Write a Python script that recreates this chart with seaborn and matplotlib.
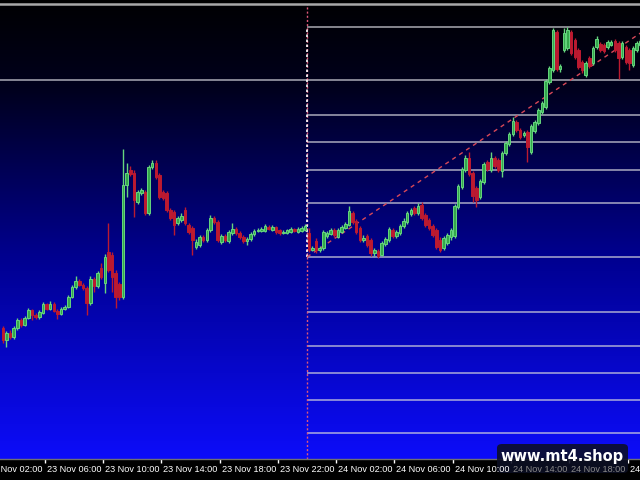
import numpy as np
import pandas as pd
import matplotlib
matplotlib.use('Agg')
import matplotlib.pyplot as plt
import matplotlib.dates as mdates
from matplotlib.colors import LinearSegmentedColormap
from matplotlib.patches import FancyBboxPatch
import seaborn as sns

# ====================
# DATA (M15 candles, prices)
# ====================
first_bar = '2023-11-23 03:00'

opens = [172, 160, 167, 163, 172, 180, 175, 182, 190, 185,
         183, 187, 196, 191, 196, 189, 186, 191, 193, 203,
         213, 219, 215, 212, 197, 221, 214, 232, 217, 248,
         245, 227, 216, 203, 315, 330, 327, 298, 307, 308,
         287, 333, 337, 325, 308, 307, 290, 288, 277, 280,
         290, 275, 272, 253, 255, 263, 260, 270, 282, 278,
         258, 264, 259, 267, 271, 267, 263, 259, 261, 266,
         269, 269, 269, 273, 270, 273, 270, 267, 267, 268,
         271, 268, 269, 270, 267, 250, 259, 250, 252, 264,
         266, 270, 263, 268, 272, 275, 287, 279, 272, 260,
         264, 260, 247, 249, 245, 256, 260, 270, 264, 267,
         274, 278, 286, 292, 287, 295, 285, 280, 274, 270,
         260, 252, 257, 263, 264, 293, 313, 330, 342, 327,
         312, 303, 318, 338, 330, 342, 340, 329, 347, 356,
         366, 378, 370, 365, 368, 348, 369, 377, 388, 393,
         418, 430, 468, 431, 450, 452, 468, 460, 450, 438,
         425, 442, 437, 453, 456, 455, 453, 455, 459, 457,
         443, 453, 450, 435, 450, 455]

highs = [174, 169, 170, 174, 182, 182, 184, 192, 191, 187,
         190, 198, 197, 199, 198, 191, 193, 195, 205, 215,
         224, 221, 217, 214, 224, 223, 229, 237, 246, 277,
         248, 230, 218, 351, 337, 334, 330, 310, 312, 310,
         335, 340, 340, 327, 310, 309, 292, 290, 284, 287,
         293, 277, 274, 261, 265, 265, 272, 285, 284, 280,
         266, 266, 270, 277, 273, 269, 265, 263, 268, 271,
         272, 273, 276, 275, 275, 274, 271, 270, 271, 273,
         272, 273, 274, 276, 272, 254, 262, 254, 270, 269,
         272, 272, 272, 275, 278, 294, 289, 281, 274, 265,
         266, 262, 252, 251, 259, 263, 273, 272, 270, 276,
         282, 289, 292, 294, 297, 298, 287, 282, 276, 272,
         263, 264, 267, 272, 296, 316, 333, 345, 348, 329,
         314, 321, 338, 340, 348, 344, 342, 349, 359, 368,
         383, 380, 372, 369, 370, 376, 380, 392, 399, 421,
         434, 472, 470, 436, 472, 473, 470, 462, 452, 440,
         439, 444, 454, 464, 458, 457, 460, 460, 461, 459,
         459, 455, 452, 454, 459, 461]

lows = [157, 153, 161, 161, 170, 173, 174, 181, 180, 181,
        181, 186, 190, 190, 188, 181, 185, 190, 192, 202,
        211, 214, 210, 185, 195, 208, 212, 221, 207, 228,
        208, 192, 200, 201, 303, 324, 283, 296, 305, 285,
        285, 331, 321, 301, 300, 288, 280, 265, 275, 278,
        275, 266, 245, 251, 253, 258, 258, 268, 276, 258,
        256, 258, 257, 265, 265, 261, 257, 255, 259, 264,
        268, 268, 268, 270, 269, 266, 265, 266, 266, 267,
        268, 267, 268, 269, 248, 249, 247, 248, 250, 262,
        265, 263, 262, 267, 271, 274, 276, 266, 258, 258,
        253, 244, 244, 242, 244, 254, 258, 262, 262, 265,
        272, 276, 284, 285, 285, 280, 273, 270, 263, 251,
        248, 250, 255, 260, 262, 291, 311, 328, 324, 298,
        293, 301, 316, 329, 328, 332, 328, 323, 345, 354,
        364, 368, 361, 363, 338, 346, 367, 375, 386, 391,
        416, 428, 429, 428, 448, 450, 445, 441, 431, 427,
        423, 432, 435, 451, 448, 447, 451, 454, 448, 421,
        441, 436, 430, 433, 448, 453]

closes = [160, 167, 163, 172, 180, 175, 182, 190, 185, 183,
          188, 196, 191, 196, 189, 186, 191, 193, 203, 213,
          219, 215, 212, 197, 221, 214, 227, 223, 243, 230,
          223, 203, 203, 315, 327, 326, 300, 308, 310, 287,
          333, 337, 323, 303, 302, 290, 282, 275, 282, 284,
          277, 268, 260, 258, 263, 260, 270, 282, 278, 260,
          264, 260, 268, 271, 267, 263, 259, 261, 266, 269,
          270, 271, 274, 271, 273, 268, 267, 268, 270, 271,
          269, 271, 272, 274, 250, 252, 250, 252, 268, 267,
          270, 265, 270, 273, 276, 289, 278, 268, 260, 262,
          255, 247, 250, 244, 257, 261, 271, 264, 268, 274,
          279, 287, 290, 287, 294, 282, 275, 272, 265, 253,
          250, 262, 265, 270, 294, 314, 331, 342, 326, 304,
          300, 319, 336, 331, 342, 334, 330, 347, 357, 366,
          379, 370, 363, 367, 353, 374, 378, 390, 397, 419,
          432, 470, 431, 434, 467, 470, 447, 443, 433, 430,
          437, 434, 452, 461, 450, 449, 458, 458, 450, 442,
          457, 438, 437, 452, 457, 459]

# Fibonacci levels (price) drawn from the day separator to the right
fib_levels = [473, 420, 385, 358, 330, 297, 243, 188, 154, 127, 100, 67]
full_width_level = 420
fib_low, fib_high = 243, 473

day_start = '2023-11-24 00:00'
trend_times = ['2023-11-24 00:00', '2023-11-24 23:30']
trend_prices = [243, 473]

label_times = ['2023-11-23 02:00', '2023-11-23 06:00', '2023-11-23 10:00',
               '2023-11-23 14:00', '2023-11-23 18:00', '2023-11-23 22:00',
               '2023-11-24 02:00', '2023-11-24 06:00', '2023-11-24 10:00',
               '2023-11-24 14:00', '2023-11-24 18:00', '2023-11-24 22:00']

view_start = '2023-11-23 02:56'
view_end = '2023-11-24 22:51'

# ====================
# PREP
# ====================
df = pd.DataFrame({'open': opens, 'high': highs, 'low': lows, 'close': closes})
df['time'] = pd.date_range(first_bar, periods=len(df), freq='15min')
df['x'] = mdates.date2num(df['time']) + 7.5 / 1440
df['up'] = df['close'] >= df['open']

x0 = mdates.date2num(pd.Timestamp(view_start))
x1 = mdates.date2num(pd.Timestamp(view_end))
xd = mdates.date2num(pd.Timestamp(day_start))

# ====================
# PLOT
# ====================
sns.set_theme(style="dark", rc={'figure.facecolor': 'black', 'axes.facecolor': 'black'})
plt.rcParams['font.family'] = ['Liberation Sans', 'DejaVu Sans']

fig = plt.figure(figsize=(6.4, 4.8), dpi=100)
ax = fig.add_axes([0, 21 / 480, 1, 455 / 480])

# black -> blue background
cmap = LinearSegmentedColormap.from_list(
    'mt4', [(0, '#010103'), (0.18, '#00001c'), (0.55, '#00008e'), (1, '#0c0cfa')])
grad = np.linspace(0, 1, 256).reshape(-1, 1)
ax.imshow(grad, cmap=cmap, aspect='auto', extent=[0, 1, 0, 1],
          transform=ax.transAxes, origin='upper', zorder=0)

# fibo + separators
for lvl in fib_levels:
    if lvl == full_width_level:
        ax.axhline(lvl, color='#d4d4dc', alpha=0.8, lw=1.1, zorder=1)
    else:
        ax.hlines(lvl, xd, x1 + 1, color='#d4d4dc', alpha=0.8, lw=1.1, zorder=1)
ax.axvline(xd, color='#e05878', lw=1, ls=(0, (1.5, 1.5)), zorder=1)
ax.vlines(xd, fib_low, fib_high, color='white', lw=1.2, ls=(0, (1.5, 1.5)), zorder=1)

sns.lineplot(x=mdates.date2num(pd.to_datetime(trend_times)), y=trend_prices, ax=ax,
             color='#d84858', lw=1, linestyle=(0, (3, 3)), legend=False, zorder=2)

# candles
green, green_edge = '#34a84c', '#66d67e'
red = '#bc1a30'
wick_col = np.where(df['up'], green_edge, red)
ax.vlines(df['x'], df['low'], df['high'], colors=wick_col, lw=1, zorder=3)
ax.bar(df['x'], df['close'] - df['open'], bottom=df['open'], width=0.7 * 15 / 1440,
       color=np.where(df['up'], green, red), edgecolor=wick_col, lw=0.7, zorder=4)

ax.set_yticks([])
lab_nums = mdates.date2num(pd.to_datetime(label_times))
ax.set_xticks(lab_nums)
ax.tick_params(axis='x', bottom=True, length=3, width=1, colors='white',
               direction='out', labelbottom=False)
# limits after the ticks, so the off-screen 02:00 tick does not widen the view
ax.set_xlim(x0, x1)
ax.set_ylim(41, 496)
for side in ['left', 'right']:
    ax.spines[side].set_visible(False)
ax.spines['top'].set_color('#a8a8a8')
ax.spines['top'].set_linewidth(1.8)
ax.spines['bottom'].set_color('#707070')
ax.spines['bottom'].set_linewidth(1)

# watermark box
box = FancyBboxPatch((497 / 640, 7 / 480), 131 / 640, 29 / 480,
                     boxstyle='round,pad=0,rounding_size=0.008',
                     transform=fig.transFigure, fc='#0c0f24', ec='none', alpha=0.88, zorder=5)
fig.add_artist(box)

# time labels (MT4 style, left aligned just right of the tick)
for t, lab in zip(lab_nums, label_times):
    txt = pd.Timestamp(lab).strftime('%d %b %H:%M')
    px = (t - x0) / (x1 - x0) * 640
    col = '#8a8a8a' if 497 < px + 4 < 628 else 'white'
    fig.text((px + 2) / 640, 11 / 480, txt, color=col, fontsize=6.6,
             ha='left', va='center', zorder=6)

fig.text(562 / 640, 24 / 480, 'www.mt4.shop', color='white', fontsize=10.5,
         fontweight='bold', ha='center', va='center', zorder=7,
         family=['DejaVu Sans'])

plt.savefig('out.png', dpi=100, facecolor='black')
